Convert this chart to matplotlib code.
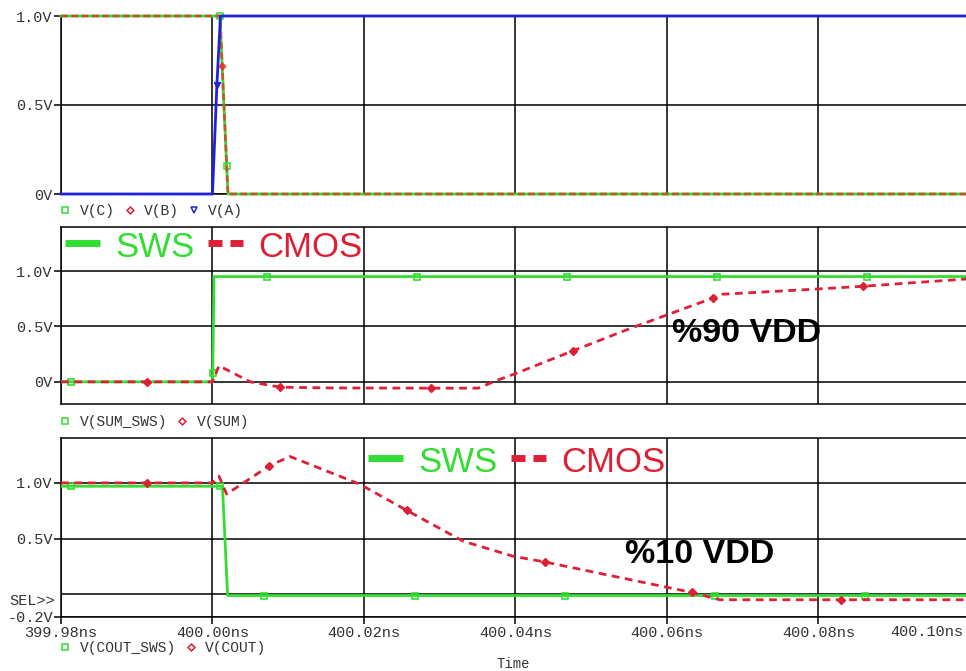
import matplotlib
matplotlib.use('Agg')
import matplotlib.pyplot as plt
import matplotlib.transforms as mtransforms
from matplotlib.lines import Line2D
from matplotlib.ticker import FixedLocator, FuncFormatter

# Transient traces, time in ns
t_a = [399.98, 400.0000, 400.00058, 400.00106, 400.0995]
v_a = [0.0, 0.0, 0.61, 1.0, 1.0]
t_b = [399.98, 400.00099, 400.00128, 400.00205, 400.0995]
v_b = [1.0, 1.0, 0.72, 0.0, 0.0]
t_c = [399.98, 400.00099, 400.00187, 400.00205, 400.0995]
v_c = [1.0, 1.0, 0.16, 0.0, 0.0]

t_sum_sws = [399.98, 399.98132, 400.0000, 400.00004, 400.0002, 400.00716,
             400.02696, 400.04676, 400.06656, 400.08644, 400.0995]
v_sum_sws = [0.0, 0.0, 0.0, 0.08, 0.95, 0.95, 0.95, 0.95, 0.95, 0.95, 0.95]
t_sum = [399.98, 399.99131, 400.0000, 400.00086, 400.0050, 400.00891,
         400.01551, 400.0288, 400.03509, 400.03752, 400.03993, 400.04763,
         400.05555, 400.06611, 400.06726, 400.07993, 400.08584, 400.0995]
v_sum = [0.0, 0.0, 0.0, 0.145, 0.0, -0.048, -0.055, -0.057, -0.057, 0.012,
         0.072, 0.281, 0.492, 0.757, 0.79, 0.838, 0.862, 0.928]

t_cout_sws = [399.98, 399.98132, 400.00099, 400.00132, 400.0020, 400.0068,
              400.02673, 400.04653, 400.06633, 400.08614, 400.0995]
v_cout_sws = [0.97, 0.97, 0.97, 0.97, -0.01, -0.01, -0.01, -0.01, -0.01, -0.01, -0.01]
t_cout = [399.98, 399.99131, 400.0000, 400.00086, 400.00187, 400.0075,
          400.01023, 400.01947, 400.02564, 400.03311, 400.03971, 400.04389,
          400.06326, 400.06699, 400.08293, 400.0995]
v_cout = [1.0, 1.0, 1.0, 1.06, 0.9, 1.153, 1.237, 0.988, 0.754, 0.477,
          0.342, 0.291, 0.018, -0.048, -0.048, -0.048]

x_ticks = [399.98, 400.00, 400.02, 400.04, 400.06, 400.08, 400.10]

GREEN = '#33dd33'
RED = '#dd2035'
BLUE = '#2020dd'
GRAY = '#333333'
MONO = 'Liberation Mono'
SANS = 'Liberation Sans'
TICK_FS = 11

W, H = 966, 671
fig = plt.figure(figsize=(W / 100, H / 100), dpi=100)


def box(top, bottom):
    return [61 / W, 1 - bottom / H, (W - 61) / W, (bottom - top) / H]


ax_top = fig.add_axes(box(16, 194))
ax_mid = fig.add_axes(box(226.7, 404))
ax_bot = fig.add_axes(box(438.3, 616.7))

for ax in (ax_top, ax_mid, ax_bot):
    ax.set_xlim(399.98, 400.0995)
    ax.xaxis.set_major_locator(FixedLocator(x_ticks))
    ax.grid(True, color='black', lw=1.1)
    ax.set_axisbelow(True)
    ax.spines['right'].set_visible(False)
    for s in ('left', 'top', 'bottom'):
        ax.spines[s].set_color('black')
        ax.spines[s].set_linewidth(1.1)
    ax.tick_params(axis='y', direction='out', length=5, width=1.1, pad=1,
                   labelsize=TICK_FS, labelcolor=GRAY)

ax_top.set_ylim(0, 1.0)
ax_mid.set_ylim(-0.2, 1.4)
ax_bot.set_ylim(-0.2, 1.4)

ax_top.set_yticks([0, 0.5, 1.0], ['0V', '0.5V', '1.0V'], family=MONO)
ax_mid.set_yticks([0, 0.5, 1.0], ['0V', '0.5V', '1.0V'], family=MONO)
ax_bot.set_yticks([-0.2, 0, 0.5, 1.0], ['-0.2V', '', '0.5V', '1.0V'], family=MONO)
ax_bot.yaxis.get_major_ticks()[1].tick1line.set_visible(False)

for ax in (ax_top, ax_mid):
    ax.tick_params(axis='x', length=0, labelbottom=False)
ax_bot.tick_params(axis='x', direction='out', length=5, width=1.1, pad=2,
                   labelsize=TICK_FS, labelcolor=GRAY)
ax_bot.xaxis.set_major_formatter(FuncFormatter(lambda v, p: f'{v:.2f}ns'))
for lab in ax_bot.get_xticklabels():
    lab.set_family(MONO)
ax_bot.set_xlabel('Time', family=MONO, fontsize=10, color=GRAY, labelpad=12)

# last tick label is pushed left to stay inside the window
ax_bot.text(0.997, -0.044, '400.10ns', transform=ax_bot.transAxes,
            ha='right', va='top', family=MONO, fontsize=TICK_FS, color=GRAY)
ax_bot.text(-0.007, -0.063, 'SEL>>',
            transform=mtransforms.blended_transform_factory(ax_bot.transAxes, ax_bot.transData),
            ha='right', va='center', family=MONO, fontsize=TICK_FS, color=GRAY)

# top panel: inputs
ax_top.plot(t_c, v_c, color=GREEN, lw=2.0, marker='s', ms=5, mfc='none', mew=1.1,
            markevery=[1, 2], clip_on=False, zorder=3)
ax_top.plot(t_b, v_b, color='#e8302a', lw=2.0, alpha=0.75, ls=(0, (2.5, 1.2)), marker='D',
            ms=3.5, markevery=[2], clip_on=False, zorder=3)
ax_top.plot(t_a, v_a, color=BLUE, lw=2.0, marker='v', ms=5, markevery=[2], clip_on=False,
            zorder=4)

# middle panel: sum
ax_mid.plot(t_sum_sws, v_sum_sws, color=GREEN, lw=2.0, marker='s', ms=5, mfc='none',
            mew=1.2, markevery=[1, 3, 5, 6, 7, 8, 9], zorder=3)
ax_mid.plot(t_sum, v_sum, color=RED, lw=2.0, ls=(0, (2.8, 2.0)), marker='D', ms=4,
            markevery=[1, 5, 7, 11, 13, 16], zorder=3)

# bottom panel: carry out
ax_bot.plot(t_cout_sws, v_cout_sws, color=GREEN, lw=2.0, marker='s', ms=5, mfc='none',
            mew=1.2, markevery=[1, 2, 5, 6, 7, 8, 9], zorder=3)
ax_bot.plot(t_cout, v_cout, color=RED, lw=2.0, ls=(0, (2.8, 2.0)), marker='D', ms=4,
            markevery=[1, 5, 8, 11, 12, 14], zorder=3)


def legend_row(ax, handles, labels, y):
    ax.legend(handles, labels, loc='center left', bbox_to_anchor=(0, y), ncol=len(labels),
              frameon=False, prop={'family': MONO, 'size': 10.5}, labelcolor=GRAY,
              handlelength=0.6, handletextpad=0.7, columnspacing=0.7,
              borderpad=0, borderaxespad=0)


sq = Line2D([], [], ls='none', marker='s', ms=5, mfc='none', mec=GREEN, mew=1.1)
dm = Line2D([], [], ls='none', marker='D', ms=3.5, mfc='none', mec=RED, mew=1.1)
tr = Line2D([], [], ls='none', marker='v', ms=5, mfc='none', mec=BLUE, mew=1.1)
legend_row(ax_top, [sq, dm, tr], ['V(C)', 'V(B)', 'V(A)'], -16.7 / 178)
legend_row(ax_mid, [sq, dm], ['V(SUM_SWS)', 'V(SUM)'], -17.7 / 177.3)
legend_row(ax_bot, [sq, dm], ['V(COUT_SWS)', 'V(COUT)'], -31.6 / 178.4)


# SWS / CMOS keys and threshold notes, placed in pixel positions
def fx(x):
    return x / W


def fy(y):
    return 1 - y / H


def key(x0, y_text, y_line):
    fig.add_artist(Line2D([fx(x0), fx(x0 + 35)], [fy(y_line)] * 2, color=GREEN, lw=5,
                          solid_capstyle='butt'))
    fig.text(fx(x0 + 50), fy(y_text), 'SWS', color=GREEN, fontsize=25, family=SANS,
             ha='left', va='baseline')
    for a, b in ((x0 + 143, x0 + 157), (x0 + 165, x0 + 178)):
        fig.add_artist(Line2D([fx(a), fx(b)], [fy(y_line)] * 2, color=RED, lw=5,
                              solid_capstyle='butt'))
    fig.text(fx(x0 + 193), fy(y_text), 'CMOS', color=RED, fontsize=25, family=SANS,
             ha='left', va='baseline')


key(65, 256.7, 243)
key(368, 471.7, 457.5)

fig.text(fx(672), fy(341.7), '%90 VDD', fontsize=24.5, weight='bold', family=SANS,
         ha='left', va='baseline')
fig.text(fx(625), fy(563.3), '%10 VDD', fontsize=24.5, weight='bold', family=SANS,
         ha='left', va='baseline')

fig.savefig('out.png', dpi=100)
